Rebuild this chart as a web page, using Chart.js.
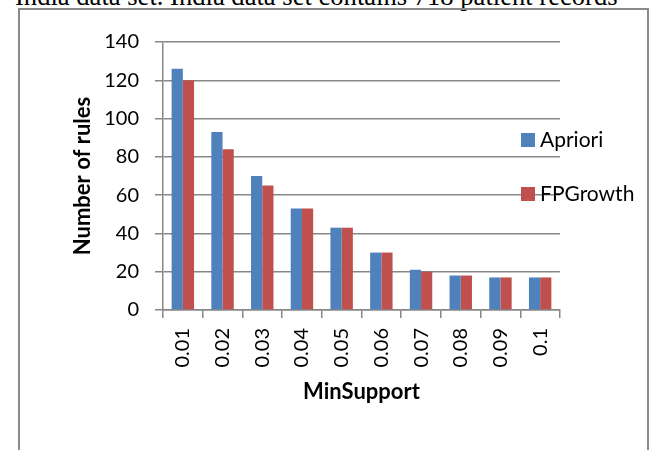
<!DOCTYPE html>
<html>
<head>
<meta charset="utf-8">
<script src="https://cdn.jsdelivr.net/npm/chart.js@4"></script>
<style>
html,body{margin:0;padding:0;background:#fff;}
#wrap{position:relative;width:650px;height:450px;overflow:hidden;}
#cap{position:absolute;left:15px;top:-17px;font-size:26.6px;font-family:'Liberation Serif',serif;line-height:1;white-space:nowrap;color:#000;}
#frame{position:absolute;left:18px;top:8px;width:627px;height:500px;border:2px solid #8a8a8a;}
#c{position:absolute;left:0;top:0;}
</style>
</head>
<body>
<div id="wrap">
  <div id="cap">India data set. India data set contains 718 patient records</div>
  <div id="frame"></div>
  <canvas id="c" width="650" height="450"></canvas>
</div>
<script>
// data
const minSupport = ['0.01','0.02','0.03','0.04','0.05','0.06','0.07','0.08','0.09','0.1'];
const apriori  = [126, 93, 70, 53, 43, 30, 21, 18, 17, 17];
const fpGrowth = [120, 84, 65, 53, 43, 30, 20, 18, 17, 17];
const yTicks = {min:0, max:140, step:20};

const C = { blue:'#4F81BD', red:'#C0504D', grid:'#878787', text:'#000' };
Chart.defaults.font.family = 'Lato, sans-serif';
Chart.defaults.color = C.text;

/* Excel-style legend sitting over the right end of the plot */
const sideLegend = {
  id:'sideLegend',
  afterDraw(chart){
    const ctx = chart.ctx;
    ctx.save();
    ctx.font = '21px Lato';
    ctx.textBaseline = 'middle';
    chart.data.datasets.forEach((ds,i)=>{
      const y = 133 + i*54;
      ctx.fillStyle = ds.backgroundColor;
      ctx.fillRect(521, y, 14, 14);
      ctx.fillStyle = C.text;
      ctx.fillText(ds.label, 540, y+7);
    });
    ctx.restore();
  }
};

new Chart(document.getElementById('c'),{
  type:'bar',
  data:{labels:minSupport, datasets:[
    {label:'Apriori', data:apriori, backgroundColor:C.blue, categoryPercentage:0.565, barPercentage:1},
    {label:'FPGrowth', data:fpGrowth, backgroundColor:C.red, categoryPercentage:0.565, barPercentage:1}
  ]},
  options:{
    responsive:false, animation:false,
    layout:{padding:{left:70, top:42, right:90, bottom:45}},
    plugins:{legend:{display:false}, tooltip:{enabled:false}},
    scales:{
      x:{
        afterFit:s=>{ s.height = 95; },
        grid:{drawOnChartArea:false, drawTicks:true, tickLength:8, color:C.grid, lineWidth:1.5},
        border:{color:C.grid, width:1.5},
        ticks:{minRotation:90, maxRotation:90, padding:10, font:{size:20}, color:C.text},
        title:{display:true, text:'MinSupport', font:{size:22, weight:'bold'}, color:C.text, padding:0}
      },
      y:{
        min:yTicks.min, max:yTicks.max,
        afterFit:s=>{ s.width = 93; },
        grid:{color:C.grid, lineWidth:1.5, tickLength:8},
        border:{color:C.grid, width:1.5},
        ticks:{stepSize:yTicks.step, padding:16, font:{size:20}, color:C.text},
        title:{display:true, text:'Number of rules', font:{size:22, weight:'bold'}, color:C.text, padding:0}
      }
    }
  },
  plugins:[sideLegend]
});
</script>
</body>
</html>
